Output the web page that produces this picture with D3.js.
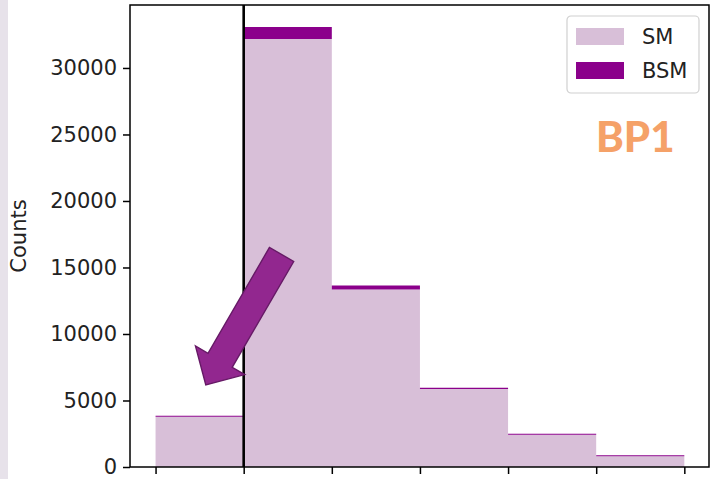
<!DOCTYPE html>
<html>
<head>
<meta charset="utf-8">
<script src="https://cdn.jsdelivr.net/npm/d3@7"></script>
<style>
  html, body { margin: 0; padding: 0; background: #ffffff; }
  svg { display: block; }
</style>
</head>
<body>
<svg id="chart" width="710" height="479"></svg>
<script>
// Histogram bin edges (bin index units) and stacked counts per bin
const binEdges = [0, 1, 2, 3, 4, 5, 6];
const smCounts = [3780, 32180, 13350, 5860, 2420, 810];
const bsmCounts = [80, 900, 300, 100, 80, 70];
const seriesNames = ["SM", "BSM"];
const seriesColors = ["#d8bfd8", "#8b008b"];
const yTicks = [0, 5000, 10000, 15000, 20000, 25000, 30000];
const cutEdge = 1;              // vertical reference line position
const arrowTail = [1.43, 15980]; // annotation arrow, data units
const arrowTip = [0.57, 6170];
const panelLabel = "BP1";

const svg = d3.select("#chart");
const W = 710, H = 479;
const plot = { left: 130, right: 709, top: 5, bottom: 467 };

// side strip
svg.append("rect").attr("x", 0).attr("y", 0).attr("width", 8).attr("height", H).attr("fill", "#e7e2ea");

const x = d3.scaleLinear().domain([-0.29, 6.28]).range([plot.left, plot.right]);
const totals = smCounts.map((v, i) => v + bsmCounts[i]);
const yMax = d3.max(totals) * 1.05;
const y = d3.scaleLinear().domain([0, yMax]).range([plot.bottom, plot.top]);

// step points: one per edge, last bin value repeated at the final edge
const steps = binEdges.map((e, i) => {
  const k = Math.min(i, smCounts.length - 1);
  return { x: e, sm: smCounts[k], tot: totals[k] };
});

const g = svg.append("g");

g.append("path")
  .datum(steps)
  .attr("fill", seriesColors[0])
  .attr("d", d3.area().curve(d3.curveStepAfter)
    .x(d => x(d.x)).y0(y(0)).y1(d => y(d.sm)));

g.append("path")
  .datum(steps)
  .attr("fill", seriesColors[1])
  .attr("d", d3.area().curve(d3.curveStepAfter)
    .x(d => x(d.x)).y0(d => y(d.sm)).y1(d => y(d.tot)));

// reference line
g.append("line")
  .attr("x1", x(cutEdge)).attr("x2", x(cutEdge))
  .attr("y1", plot.top).attr("y2", plot.bottom)
  .attr("stroke", "#000").attr("stroke-width", 2.6);

// annotation arrow
(function drawArrow() {
  const tx = x(arrowTail[0]), ty = y(arrowTail[1]);
  const hx = x(arrowTip[0]), hy = y(arrowTip[1]);
  const len = Math.hypot(hx - tx, hy - ty);
  const ux = (hx - tx) / len, uy = (hy - ty) / len;
  const nx = -uy, ny = ux;
  const shaftHalf = 14, headHalf = 28.5, headLen = 28.5;
  const bx = hx - ux * headLen, by = hy - uy * headLen;
  const pts = [
    [tx + nx * shaftHalf, ty + ny * shaftHalf],
    [bx + nx * shaftHalf, by + ny * shaftHalf],
    [bx + nx * headHalf, by + ny * headHalf],
    [hx, hy],
    [bx - nx * headHalf, by - ny * headHalf],
    [bx - nx * shaftHalf, by - ny * shaftHalf],
    [tx - nx * shaftHalf, ty - ny * shaftHalf]
  ];
  g.append("path")
    .attr("d", "M" + pts.map(p => p.join(",")).join("L") + "Z")
    .attr("fill", "#92278f")
    .attr("stroke", "#661a66")
    .attr("stroke-width", 1.4)
    .attr("stroke-linejoin", "miter");
})();

// axes
const font = "DejaVu Sans, sans-serif";
const yAxis = svg.append("g")
  .attr("transform", `translate(${plot.left},0)`)
  .call(d3.axisLeft(y).tickValues(yTicks).tickSize(7).tickPadding(6).tickFormat(d3.format("d")));
const xAxis = svg.append("g")
  .attr("transform", `translate(0,${plot.bottom})`)
  .call(d3.axisBottom(x).tickValues(binEdges).tickSize(7).tickFormat(() => ""));
[yAxis, xAxis].forEach(a => {
  a.select(".domain").remove();
  a.selectAll(".tick line").attr("stroke", "#000").attr("stroke-width", 1.5);
  a.selectAll(".tick text").attr("fill", "#222").style("font-family", font).style("font-size", "21px");
});

// spines
svg.append("rect")
  .attr("x", plot.left).attr("y", plot.top)
  .attr("width", plot.right - plot.left).attr("height", plot.bottom - plot.top)
  .attr("fill", "none").attr("stroke", "#000").attr("stroke-width", 1.5);

// y label
svg.append("text")
  .attr("transform", `translate(19,${(plot.top + plot.bottom) / 2}) rotate(-90)`)
  .attr("text-anchor", "middle").attr("dominant-baseline", "central")
  .style("font-family", font).style("font-size", "21px").attr("fill", "#222")
  .text("Counts");

// legend
const lg = svg.append("g").attr("transform", "translate(567,16)");
lg.append("rect").attr("width", 132).attr("height", 77).attr("rx", 4)
  .attr("fill", "#fff").attr("fill-opacity", 0.8).attr("stroke", "#d0d0d0").attr("stroke-width", 1.2);
seriesNames.forEach((name, i) => {
  const row = lg.append("g").attr("transform", `translate(9,${12 + i * 34})`);
  row.append("rect").attr("width", 48).attr("height", 17).attr("fill", seriesColors[i]);
  row.append("text").attr("x", 66).attr("y", 8.5).attr("dominant-baseline", "central")
    .style("font-family", font).style("font-size", "21px").attr("fill", "#222").text(name);
});

// panel tag
svg.append("text")
  .attr("x", 596).attr("y", 152)
  .style("font-family", "Lato, 'Open Sans', sans-serif").style("font-weight", 900)
  .style("font-size", "42px").attr("fill", "#f5a168")
  .text(panelLabel);
</script>
</body>
</html>
